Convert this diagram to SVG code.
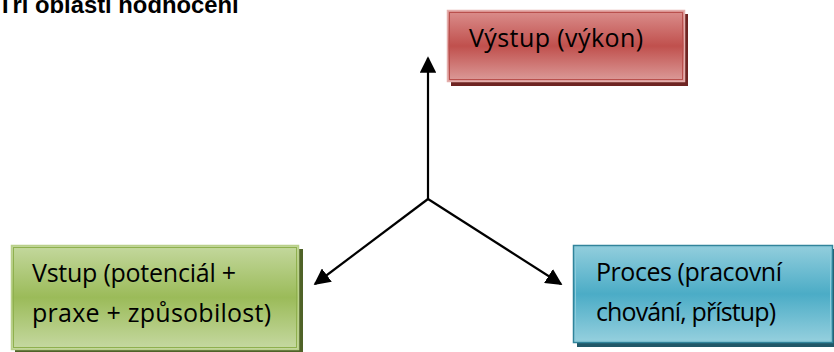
<svg xmlns="http://www.w3.org/2000/svg" width="834" height="352" viewBox="0 0 834 352">
  <style>
    .title { font-family: "Liberation Sans", Arial, sans-serif; font-weight: bold; font-size: 23.8px; fill: #000; }
    .label { font-family: "Open Sans", "Noto Sans", sans-serif; font-size: 25px; fill: #000; }
    .conn { stroke: #000; stroke-width: 2.2; fill: none; marker-end: url(#arrow); }
  </style>
  <defs>
    <marker id="arrow" viewBox="0 0 10 10" refX="9" refY="5" markerWidth="7.5" markerHeight="7.5" orient="auto" markerUnits="strokeWidth">
      <path d="M0,0 L10,5 L0,10 z" fill="#000"/>
    </marker>
    <linearGradient id="gRed" x1="0" y1="0" x2="0" y2="1">
      <stop offset="0" stop-color="#db8f8d"/>
      <stop offset="0.5" stop-color="#c0504d"/>
      <stop offset="1" stop-color="#dc9c9a"/>
    </linearGradient>
    <linearGradient id="gGreen" x1="0" y1="0" x2="0" y2="1">
      <stop offset="0" stop-color="#c4d89e"/>
      <stop offset="0.5" stop-color="#9bbb59"/>
      <stop offset="1" stop-color="#c6d9a2"/>
    </linearGradient>
    <linearGradient id="gBlue" x1="0" y1="0" x2="0" y2="1">
      <stop offset="0" stop-color="#93cedd"/>
      <stop offset="0.5" stop-color="#4bacc6"/>
      <stop offset="1" stop-color="#96d0de"/>
    </linearGradient>
  </defs>

  <text class="title" x="-2" y="13">Tři oblasti hodnocení</text>

  <g id="connectors">
    <line class="conn" x1="428" y1="199" x2="428" y2="58"/>
    <line class="conn" x1="428" y1="199" x2="315" y2="284"/>
    <line class="conn" x1="428" y1="199" x2="561" y2="284"/>
  </g>

  <g id="vystup">
    <rect x="451" y="14" width="237" height="72" fill="#6e2422"/>
    <rect x="447.5" y="10.5" width="237" height="71" fill="url(#gRed)" stroke="#e4aeac" stroke-width="1.5"/>
    <rect x="449.5" y="12.5" width="233" height="67" fill="none" stroke="#b9504d" stroke-width="1"/>
    <text class="label" x="469" y="47" textLength="174">Výstup (výkon)</text>
  </g>

  <g id="vstup">
    <rect x="15" y="249" width="288" height="106" fill="#4f6228"/>
    <rect x="11.5" y="245.5" width="287" height="104" fill="url(#gGreen)" stroke="#b9d08a" stroke-width="1.5"/>
    <rect x="13.5" y="247.5" width="283" height="100" fill="none" stroke="#8fb04e" stroke-width="1"/>
    <text class="label" x="32" y="282" textLength="204">Vstup (potenciál +</text>
    <text class="label" x="32" y="322" textLength="239">praxe + způsobilost)</text>
  </g>

  <g id="proces">
    <rect x="577" y="249" width="260" height="98" fill="#215868"/>
    <rect x="573.5" y="245.5" width="259" height="97" fill="url(#gBlue)" stroke="#31849b" stroke-width="1.5"/>
    <rect x="575.5" y="247.5" width="255" height="93" fill="none" stroke="#8ccbdb" stroke-width="1"/>
    <text class="label" x="596" y="281" textLength="186">Proces (pracovní</text>
    <text class="label" x="596" y="321" textLength="180">chování, přístup)</text>
  </g>
</svg>
